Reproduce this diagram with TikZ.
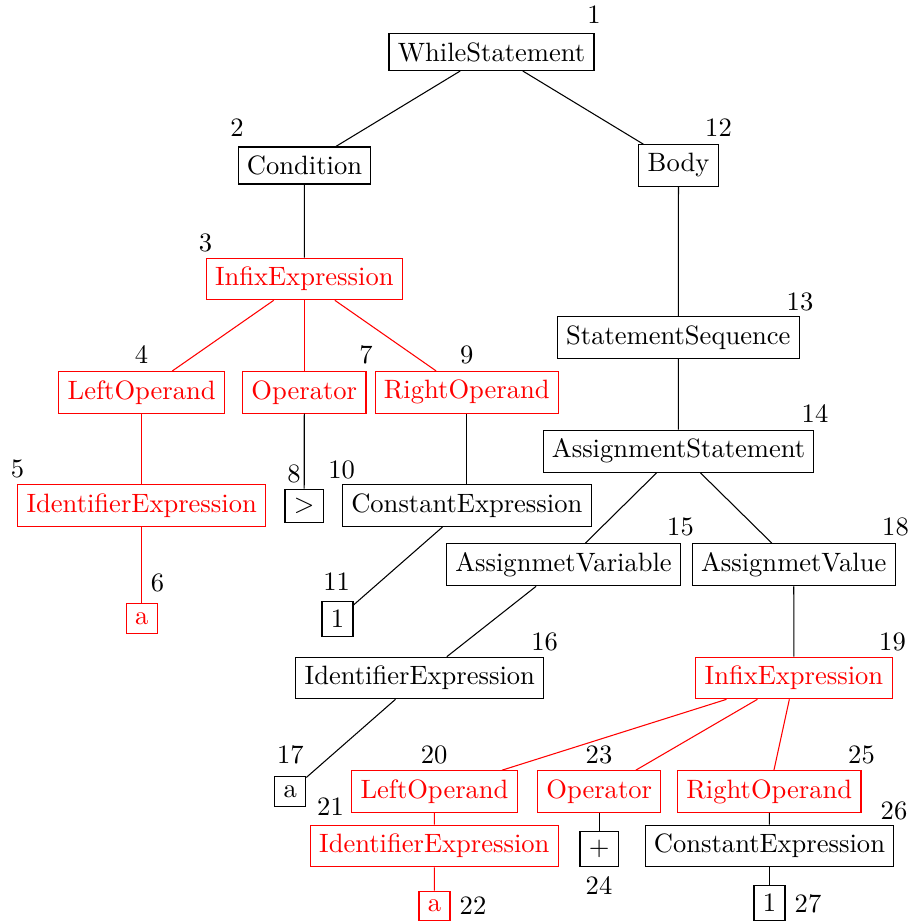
\documentclass[tikz,border=0pt]{standalone}
\begin{document}
\begin{tikzpicture}[x=0.37665pt,y=-0.37665pt,
  box/.style={draw,rectangle},
  rbox/.style={draw=red,text=red,rectangle},
  num/.style={inner sep=0pt},
  link/.style={draw=black},
  rlink/.style={draw=red}]
\useasboundingbox (0,0) rectangle (913,921);
% tree nodes
\node[box]  (n1)  at (491.5,52)    {WhileStatement};
\node[box]  (n2)  at (304.5,165.5) {Condition};
\node[box]  (n12) at (678.5,165.5) {Body};
\node[rbox] (n3)  at (304.3,279)   {InfixExpression};
\node[rbox] (n4)  at (141.7,392.3) {LeftOperand};
\node[rbox] (n7)  at (304.3,392.3) {Operator};
\node[rbox] (n9)  at (466.8,392.3) {RightOperand};
\node[rbox] (n5)  at (141.7,505.5) {IdentifierExpression};
\node[box]  (n8)  at (304.2,505.7) {$>$};
\node[box]  (n10) at (466.8,505.7) {ConstantExpression};
\node[rbox] (n6)  at (141.7,618.8) {a};
\node[box]  (n11) at (337.5,619)   {1};
\node[box]  (n13) at (678.3,337.5) {StatementSequence};
\node[box]  (n14) at (678.5,451.2) {AssignmentStatement};
\node[box]  (n15) at (563.5,564.7) {AssignmetVariable};
\node[box]  (n18) at (793.7,564.7) {AssignmetValue};
\node[box]  (n16) at (419.8,678)   {IdentifierExpression};
\node[rbox] (n19) at (794,678)     {InfixExpression};
\node[box]  (n17) at (290.3,791.5) {a};
\node[rbox] (n20) at (434.5,791.5) {LeftOperand};
\node[rbox] (n23) at (599.2,791.5) {Operator};
\node[rbox] (n25) at (769.3,791.5) {RightOperand};
\node[rbox] (n21) at (434.3,846)   {IdentifierExpression};
\node[box]  (n24) at (599.2,849)   {$+$};
\node[box]  (n26) at (769.5,846)   {ConstantExpression};
\node[rbox] (n22) at (434.5,906)   {a};
\node[box]  (n27) at (769.5,903)   {1};
% numbering
\node[num] (l1)  at (594,15)      {1};
\node[num] (l2)  at (237,128)     {2};
\node[num] (l12) at (718.5,128)   {12};
\node[num] (l3)  at (205.5,242.5) {3};
\node[num] (l4)  at (141.5,355)   {4};
\node[num] (l7)  at (366,355)     {7};
\node[num] (l9)  at (466.7,355)   {9};
\node[num] (l5)  at (17.5,469)    {5};
\node[num] (l8)  at (294,474)     {8};
\node[num] (l10) at (341.7,470)   {10};
\node[num] (l6)  at (157.5,582.5) {6};
\node[num] (l11) at (336.7,582)   {11};
\node[num] (l13) at (800,301.7)   {13};
\node[num] (l14) at (815,414)     {14};
\node[num] (l15) at (680.5,527)   {15};
\node[num] (l18) at (895.5,527)   {18};
\node[num] (l16) at (544.7,642)   {16};
\node[num] (l19) at (892.5,642)   {19};
\node[num] (l17) at (290.3,754.7) {17};
\node[num] (l20) at (434.2,755)   {20};
\node[num] (l23) at (599,755)     {23};
\node[num] (l25) at (861.5,755)   {25};
\node[num] (l21) at (330.5,807)   {21};
\node[num] (l26) at (894,810.5)   {26};
\node[num] (l24) at (599,886)     {24};
\node[num] (l22) at (473,906)     {22};
\node[num] (l27) at (808,904)     {27};
% edges
\draw[link] (n1) -- (n2);
\draw[link] (n1) -- (n12);
\draw[link] (n2) -- (n3);
\draw[rlink] (n3) -- (n4);
\draw[rlink] (n3) -- (n7);
\draw[rlink] (n3) -- (n9);
\draw[rlink] (n4) -- (n5);
\draw[rlink] (n5) -- (n6);
\draw[link] (n7) -- (n8);
\draw[link] (n9) -- (n10);
\draw[link] (n10) -- (n11);
\draw[link] (n12) -- (n13);
\draw[link] (n13) -- (n14);
\draw[link] (n14) -- (n15);
\draw[link] (n14) -- (n18);
\draw[link] (n15) -- (n16);
\draw[link] (n16) -- (n17);
\draw[link] (n18) -- (n19);
\draw[rlink] (n19) -- (n20);
\draw[rlink] (n19) -- (n23);
\draw[rlink] (n19) -- (n25);
\draw[rlink] (n20) -- (n21);
\draw[rlink] (n21) -- (n22);
\draw[link] (n23) -- (n24);
\draw[link] (n25) -- (n26);
\draw[link] (n26) -- (n27);
\end{tikzpicture}
\end{document}
